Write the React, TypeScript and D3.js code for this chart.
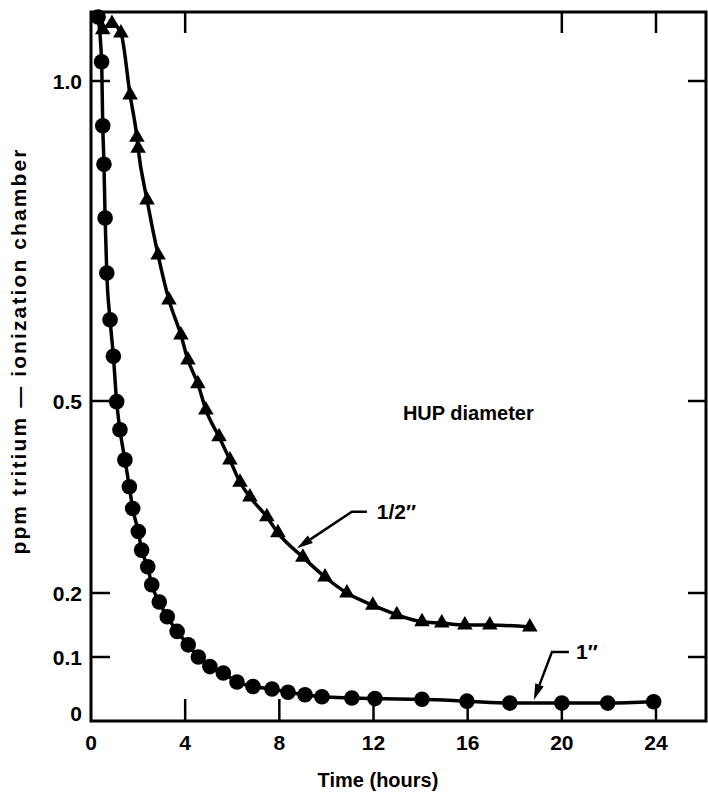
import { useEffect, useRef } from 'react';
import * as d3 from 'd3';

const W = 708;
const H = 796;

// 1" HUP diameter (circles)
const oneInchTime = [0.3, 0.45, 0.5, 0.55, 0.6, 0.67, 0.81, 0.95, 1.09, 1.23, 1.44, 1.63, 1.77, 2.01, 2.15, 2.41, 2.58, 2.9, 3.24, 3.66, 4.13, 4.56, 5.05, 5.62, 6.2, 6.88, 7.69, 8.37, 9.09, 9.81, 11.08, 12.06, 14.06, 15.97, 17.79, 20, 21.95, 23.9];
const oneInchPpm = [1.1, 1.03, 0.93, 0.87, 0.786, 0.7, 0.627, 0.57, 0.499, 0.455, 0.408, 0.366, 0.332, 0.296, 0.267, 0.241, 0.213, 0.186, 0.163, 0.14, 0.119, 0.1, 0.085, 0.075, 0.061, 0.054, 0.05, 0.045, 0.041, 0.038, 0.036, 0.035, 0.034, 0.031, 0.028, 0.028, 0.028, 0.03];

// 1/2" HUP diameter (triangles)
const halfInchTime = [0.5, 0.89, 1.27, 1.66, 1.95, 2.0, 2.38, 2.85, 3.31, 3.82, 4.12, 4.54, 4.88, 5.44, 5.9, 6.33, 6.75, 7.47, 7.94, 9.0, 9.94, 10.87, 11.97, 12.99, 14.06, 14.9, 15.88, 16.94, 18.64];
const halfInchPpm = [1.08, 1.09, 1.075, 0.978, 0.912, 0.895, 0.814, 0.728, 0.658, 0.603, 0.564, 0.527, 0.486, 0.444, 0.408, 0.373, 0.35, 0.319, 0.294, 0.256, 0.225, 0.2, 0.181, 0.166, 0.155, 0.153, 0.15, 0.15, 0.147];

const xTicks = [0, 4, 8, 12, 16, 20, 24];
const yTicks = [0, 0.1, 0.2, 0.5, 1.0];
const yTickLabels = ['0', '0.1', '0.2', '0.5', '1.0'];
const topTicks = [4, 20, 24];
const rightTicks = [0.1, 0.2, 0.5, 1.0];

const FONT = '"Liberation Sans", Arial, sans-serif';

const App = () => {
  const svgRef = useRef<SVGSVGElement>(null);

  useEffect(() => {
    const svg = d3.select(svgRef.current);
    svg.selectAll('*').remove();

    const x = d3.scaleLinear().domain([0, 24]).range([91, 656]);
    const y = d3.scaleLinear().domain([0, 1]).range([721, 81]);
    const left = x(0);
    const bottom = y(0);
    const right = 706;
    const top = 12;

    const g = svg.append('g');

    // frame
    g.append('path')
      .attr('d', `M${left},${top}H${right}V${bottom}H${left}Z`)
      .attr('fill', 'none')
      .attr('stroke', '#000')
      .attr('stroke-width', 3);

    // bottom / top ticks, pointing inward
    xTicks.filter(t => t > 0).forEach(t => {
      g.append('line')
        .attr('x1', x(t)).attr('x2', x(t))
        .attr('y1', bottom).attr('y2', bottom - 22)
        .attr('stroke', '#000').attr('stroke-width', 2.5);
    });
    topTicks.forEach(t => {
      g.append('line')
        .attr('x1', x(t)).attr('x2', x(t))
        .attr('y1', top).attr('y2', top + 21)
        .attr('stroke', '#000').attr('stroke-width', 2.5);
    });
    g.selectAll('text.xt')
      .data(xTicks)
      .enter()
      .append('text')
      .attr('x', d => x(d))
      .attr('y', bottom + 29)
      .attr('text-anchor', 'middle')
      .attr('font-family', FONT)
      .attr('font-weight', 700)
      .attr('font-size', '21px')
      .text(d => d);

    // left / right ticks
    yTicks.filter(v => v > 0).forEach(v => {
      g.append('line')
        .attr('x1', left).attr('x2', left + 19)
        .attr('y1', y(v)).attr('y2', y(v))
        .attr('stroke', '#000').attr('stroke-width', 2.5);
    });
    rightTicks.forEach(v => {
      g.append('line')
        .attr('x1', right).attr('x2', right - 18)
        .attr('y1', y(v)).attr('y2', y(v))
        .attr('stroke', '#000').attr('stroke-width', 2.5);
    });
    g.selectAll('text.yt')
      .data(yTicks)
      .enter()
      .append('text')
      .attr('x', left - 9)
      .attr('y', d => y(d) + (d === 0 ? -8 : 0))
      .attr('dy', '0.36em')
      .attr('text-anchor', 'end')
      .attr('font-family', FONT)
      .attr('font-weight', 700)
      .attr('font-size', '21px')
      .text((d, i) => yTickLabels[i]);

    // axis titles
    g.append('text')
      .attr('x', 378)
      .attr('y', 787)
      .attr('text-anchor', 'middle')
      .attr('font-family', FONT)
      .attr('font-weight', 700)
      .attr('font-size', '20px')
      .text('Time (hours)');

    g.append('text')
      .attr('transform', 'translate(26,352) rotate(-90)')
      .attr('text-anchor', 'middle')
      .attr('font-family', FONT)
      .attr('font-weight', 700)
      .attr('font-size', '21px')
      .attr('textLength', 405)
      .attr('lengthAdjust', 'spacing')
      .text('ppm tritium \u2014 ionization chamber');

    // 1" series
    const oneData = oneInchTime.map((t, i) => [x(t), y(oneInchPpm[i])] as [number, number]);
    g.append('path')
      .attr('d', d3.line().curve(d3.curveMonotoneX)(oneData))
      .attr('fill', 'none')
      .attr('stroke', '#000')
      .attr('stroke-width', 3.5);
    g.selectAll('circle.one')
      .data(oneData)
      .enter()
      .append('circle')
      .attr('cx', d => d[0])
      .attr('cy', d => d[1])
      .attr('r', 7.8)
      .attr('fill', '#000');

    // 1/2" series
    const halfData = halfInchTime.map((t, i) => [x(t), y(halfInchPpm[i])] as [number, number]);
    g.append('path')
      .attr('d', d3.line().curve(d3.curveMonotoneX)(halfData))
      .attr('fill', 'none')
      .attr('stroke', '#000')
      .attr('stroke-width', 3.5);
    const tri = d3.symbol().type(d3.symbolTriangle).size(105);
    g.selectAll('path.half')
      .data(halfData)
      .enter()
      .append('path')
      .attr('d', tri)
      .attr('transform', d => `translate(${d[0]},${d[1]})`)
      .attr('fill', '#000');

    // annotation arrows: [tip, elbow, end] in data units
    const arrow = (pts: [number, number][], label: string, labelT: number) => {
      const p = pts.map(([t, v]) => [x(t), y(v)] as [number, number]);
      const [tip, elbow] = p;
      const ang = Math.atan2(elbow[1] - tip[1], elbow[0] - tip[0]);
      const len = 16;
      const wid = 4.5;
      const bx = tip[0] + Math.cos(ang) * len;
      const by = tip[1] + Math.sin(ang) * len;
      g.append('path')
        .attr('d', d3.line()([[bx, by], ...p.slice(1)]))
        .attr('fill', 'none')
        .attr('stroke', '#000')
        .attr('stroke-width', 2.5);
      g.append('path')
        .attr('d', `M${tip[0]},${tip[1]}L${bx - Math.sin(ang) * wid},${by + Math.cos(ang) * wid}L${bx + Math.sin(ang) * wid},${by - Math.cos(ang) * wid}Z`)
        .attr('fill', '#000');
      g.append('text')
        .attr('x', x(labelT))
        .attr('y', p[2][1])
        .attr('dy', '0.36em')
        .attr('font-family', FONT)
        .attr('font-weight', 700)
        .attr('font-size', '21px')
        .text(label);
    };
    arrow([[8.75, 0.27], [11.08, 0.327], [11.72, 0.327]], '1/2\u2033', 12.14);
    arrow([[18.81, 0.033], [19.58, 0.108], [20.3, 0.108]], '1\u2033', 20.6);

    g.append('text')
      .attr('x', x(13.25))
      .attr('y', y(0.481))
      .attr('dy', '0.36em')
      .attr('font-family', FONT)
      .attr('font-weight', 700)
      .attr('font-size', '20px')
      .text('HUP diameter');
  }, []);

  return (
    <svg
      ref={svgRef}
      width={W}
      height={H}
      style={{ position: 'absolute', left: 0, top: 0, background: '#fff' }}
    />
  );
};

export default App;
